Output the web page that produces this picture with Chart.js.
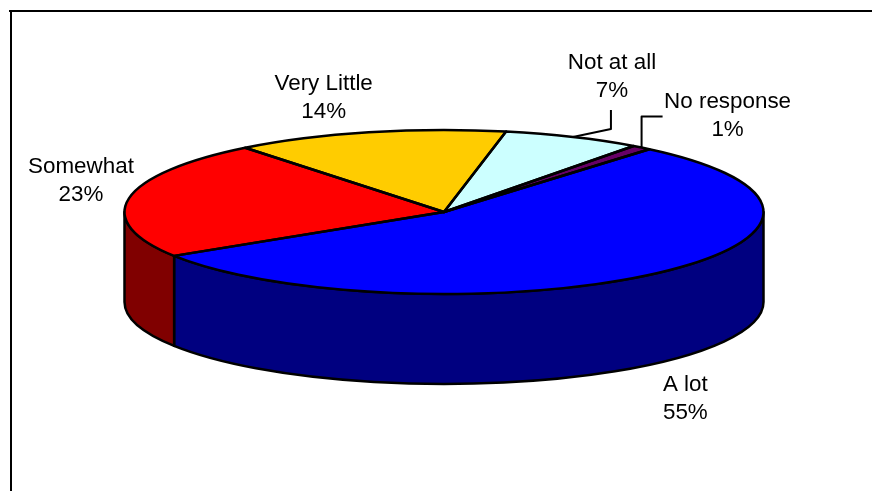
<!DOCTYPE html>
<html>
<head>
<meta charset="utf-8">
<style>html,body{margin:0;padding:0;background:#fff}canvas{display:block}</style>
<script src="https://cdn.jsdelivr.net/npm/chart.js@4/dist/chart.umd.js"></script>
</head>
<body>
<canvas id="c" width="872" height="491"></canvas>
<script>
const categories = ['A lot', 'Somewhat', 'Very Little', 'Not at all', 'No response'];
const values = [54.9, 23.3, 13.8, 7, 1];
const topColors = ['#0000FF', '#FF0000', '#FFCC00', '#CCFFFF', '#660066'];
const sideColors = ['#000080', '#800000', '#806600', '#668080', '#330033'];

const RADIUS = 319.5, SQUASH = 82 / 319.5, DEPTH = 90, ROTATION = 40;
const labelOffsets = [[31, 111], [-48, -32], [-45, -48], [39, -74], [86, -46]];
const leaders = { 3: [[38, -8], [38, -27]], 4: [[0, -31], [21, -31]] };

function ellipticTransform(ctx, a, dy) {
  ctx.translate(a.x, a.y + (dy || 0));
  ctx.scale(1, SQUASH);
  ctx.translate(-a.x, -a.y);
}
function props(el) {
  return el.getProps(['x', 'y', 'startAngle', 'endAngle', 'outerRadius'], true);
}

const pie3d = {
  id: 'pie3d',
  beforeDatasetsDraw(chart) {
    const ctx = chart.ctx;
    const arcs = chart.getDatasetMeta(0).data;
    // cylinder wall, front half only
    arcs.forEach((el, i) => {
      const a = props(el);
      const s = Math.max(a.startAngle, 0), e = Math.min(a.endAngle, Math.PI);
      if (e <= s) return;
      ctx.save();
      ctx.beginPath();
      ctx.save(); ellipticTransform(ctx, a);
      ctx.arc(a.x, a.y, a.outerRadius, s, e);
      ctx.restore();
      ctx.save(); ellipticTransform(ctx, a, DEPTH);
      ctx.arc(a.x, a.y, a.outerRadius, e, s, true);
      ctx.restore();
      ctx.closePath();
      ctx.fillStyle = sideColors[i];
      ctx.fill();
      ctx.strokeStyle = '#000'; ctx.lineWidth = 2.5; ctx.lineJoin = 'round';
      ctx.stroke();
      ctx.restore();
    });
    // squash the pie the library draws
    const first = props(arcs[0]);
    ctx.save();
    ellipticTransform(ctx, first);
  },
  afterDatasetsDraw(chart) {
    const ctx = chart.ctx;
    ctx.restore();
    const arcs = chart.getDatasetMeta(0).data;
    ctx.save();
    ctx.strokeStyle = '#000'; ctx.lineWidth = 2.5; ctx.lineJoin = 'round';
    arcs.forEach(el => {
      const a = props(el);
      ctx.beginPath();
      ctx.save(); ellipticTransform(ctx, a);
      ctx.moveTo(a.x, a.y);
      ctx.arc(a.x, a.y, a.outerRadius, a.startAngle, a.endAngle);
      ctx.closePath();
      ctx.restore();
      ctx.stroke();
    });
    // labels and leader lines
    ctx.font = '22.4px "Liberation Sans", Arial, sans-serif';
    ctx.fillStyle = '#000';
    ctx.textAlign = 'center';
    ctx.textBaseline = 'middle';
    const total = values.reduce((p, v) => p + v, 0);
    ctx.lineWidth = 2;
    arcs.forEach((el, i) => {
      const a = props(el);
      const mid = (a.startAngle + a.endAngle) / 2;
      const ax = a.x + a.outerRadius * Math.cos(mid);
      const ay = a.y + a.outerRadius * SQUASH * Math.sin(mid);
      if (leaders[i]) {
        ctx.beginPath();
        ctx.moveTo(ax, ay);
        leaders[i].forEach(p => ctx.lineTo(ax + p[0], ay + p[1]));
        ctx.stroke();
      }
      const lx = ax + labelOffsets[i][0], ly = ay + labelOffsets[i][1];
      ctx.fillText(categories[i], lx, ly);
      ctx.fillText(Math.round(values[i] / total * 100) + '%', lx, ly + 28);
    });
    // chart frame: top and left rules
    ctx.fillStyle = '#000';
    ctx.fillRect(9, 10, 863, 2);
    ctx.fillRect(10, 10, 2, 481);
    ctx.restore();
  }
};

new Chart(document.getElementById('c'), {
  type: 'pie',
  data: {
    labels: categories,
    datasets: [{
      data: values,
      backgroundColor: topColors,
      borderWidth: 0,
      clip: false
    }]
  },
  options: {
    responsive: false,
    animation: false,
    rotation: ROTATION,
    radius: RADIUS,
    layout: { padding: { left: 16, right: 0, top: 0, bottom: 67 } },
    events: [],
    plugins: { legend: { display: false }, tooltip: { enabled: false }, title: { display: false } }
  },
  plugins: [pie3d]
});
</script>
</body>
</html>
